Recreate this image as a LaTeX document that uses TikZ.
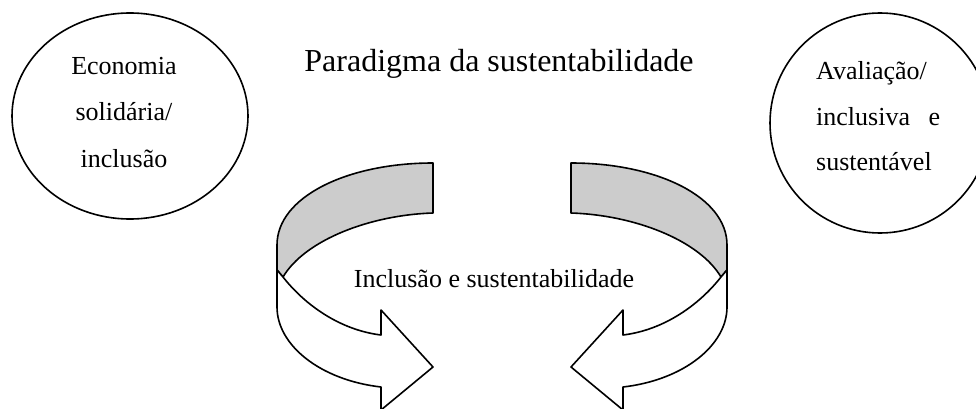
\documentclass[tikz,border=0pt]{standalone}
\usepackage{fontspec}
\setmainfont{Liberation Serif}
\usetikzlibrary{shapes.geometric}
\begin{document}
\begin{tikzpicture}[x=1pt,y=-1pt,
  lw/.style={line width=1.6pt, line join=round},
  circ/.style={ellipse, draw, lw, inner sep=0pt},
  bodytxt/.style={font=\fontsize{26}{30}\selectfont, inner sep=0pt, anchor=base},
  bandback/.style={lw, fill=black!20},
  bandfront/.style={lw, fill=white}]
\useasboundingbox (0,0) rectangle (976,409);
\clip (0,0) rectangle (976,409);
\fill[white] (0,0) rectangle (976,409);

% circles
\node[circ, minimum width=236pt, minimum height=206pt] (econ) at (130,116) {};
\node[circ, minimum width=220pt, minimum height=220pt] (aval) at (880,123) {};

% title
\node[font=\fontsize{32}{36}\selectfont, inner sep=0pt, anchor=base] (title) at (499,72) {Paradigma da sustentabilidade};

% left circle text
\node[bodytxt] (e1) at (124,75) {Economia};
\node[bodytxt] (e2) at (124,121) {solidária/};
\node[bodytxt] (e3) at (124,167) {inclusão};

% right circle text
\node[bodytxt, anchor=base west] (a1) at (816,80) {Avaliação/};
\node[bodytxt, anchor=base west] (a2) at (816,125) {\makebox[124pt][l]{inclusiva\hfill e}};
\node[bodytxt, anchor=base west] (a3) at (816,170) {sustentável};

% curved arrows
\foreach \sx/\sh in {1/0,-1/1004}{
\begin{scope}[xshift=\sh pt, xscale=\sx]
  \draw[bandback] (433,163) .. controls (347,163) and (277,197) .. (277,245)
     -- (277,270) -- (283,277)
     .. controls (305,240) and (370,215) .. (433,213) -- cycle;
  \draw[bandfront] (283,277) .. controls (305,305) and (340,330) .. (381,335)
     -- (381,310) -- (433,367) -- (381,410) -- (381,387)
     .. controls (320,380) and (277,345) .. (277,307) -- (277,270) -- cycle;
\end{scope}}

% centre text
\node[bodytxt] (incl) at (494,287) {Inclusão e sustentabilidade};
\end{tikzpicture}
\end{document}
